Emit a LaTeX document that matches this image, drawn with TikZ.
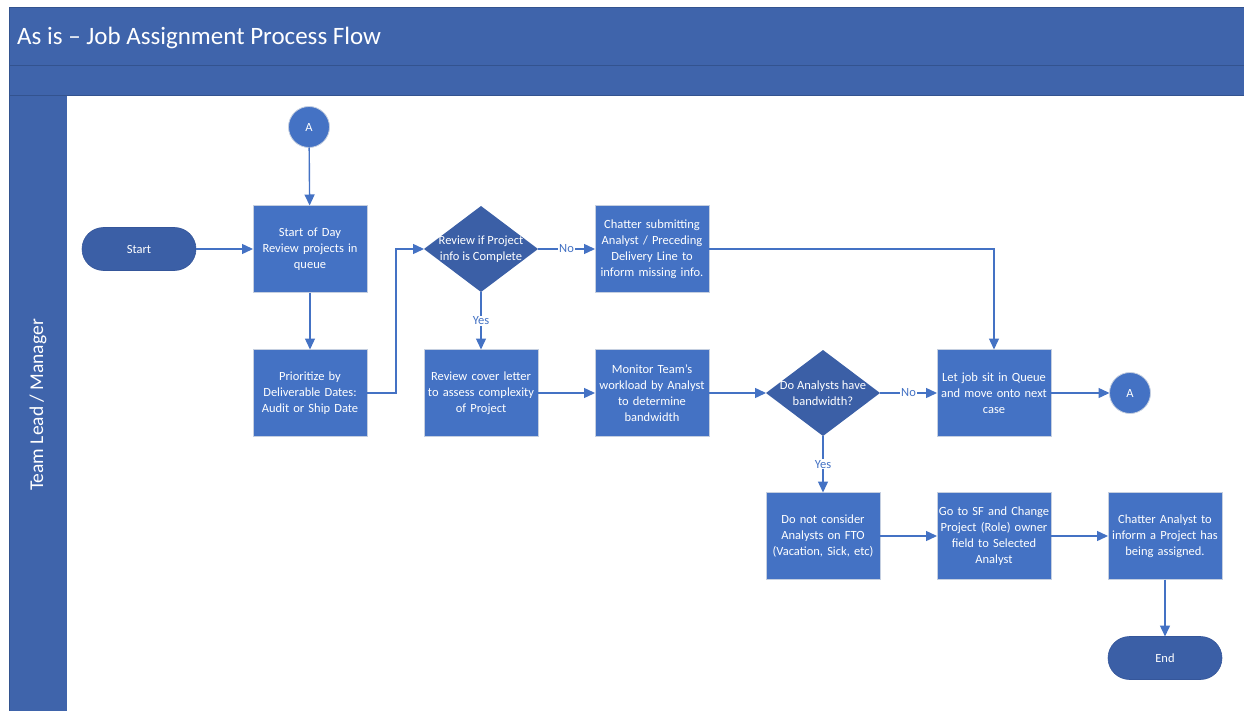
\documentclass[tikz,border=0pt]{standalone}
\usepackage{fontspec}
\setmainfont{Carlito}
\usetikzlibrary{shapes.geometric,arrows.meta}

\definecolor{barblue}{HTML}{3F64AB}
\definecolor{barline}{HTML}{33538F}
\definecolor{procblue}{HTML}{4472C4}
\definecolor{darkblue}{HTML}{3B5FA6}
\definecolor{procedge}{HTML}{C5CFE0}
\definecolor{termedge}{HTML}{35569A}

\tikzset{
  x=1pt, y=-1pt,
  boxtext/.style={text=white, font=\fontsize{12.5}{16}\selectfont, align=center},
  proc/.style={boxtext, rectangle, fill=procblue, draw=procedge, line width=0.8pt,
    minimum width=114pt, minimum height=87pt, text width=112pt, inner sep=0pt, outer sep=0pt},
  term/.style={boxtext, rectangle, rounded corners=21.5pt, fill=darkblue, draw=termedge,
    line width=0.6pt, minimum width=114pt, minimum height=43pt, inner sep=0pt, outer sep=0pt},
  decision/.style={diamond, fill=darkblue, draw=none, minimum width=114pt,
    minimum height=86pt, inner sep=0pt, outer sep=0pt},
  dtext/.style={boxtext, inner sep=0pt},
  offpage/.style={boxtext, circle, fill=procblue, draw=procedge, line width=0.8pt,
    minimum size=41pt, inner sep=0pt, outer sep=0pt},
  conn/.style={draw=procblue, line width=1.4pt,
    -{Triangle[length=11pt,width=10pt]}},
  yn/.style={fill=white, text=procblue, font=\fontsize{12.5}{14}\selectfont, inner sep=1pt},
}

\begin{document}
\begin{tikzpicture}
\useasboundingbox (0,0) rectangle (1244,711);

% swimlane frame: title bar, header strip and lane label column
\fill[barblue] (9,8) rectangle (1244,66);
\fill[barblue] (9,66) rectangle (1244,95);
\fill[barblue] (9,95) rectangle (67,711);
\draw[barline, line width=1pt] (9,8) -- (1244,8);
\draw[barline, line width=1pt] (9,66) -- (1244,66);
\draw[barline, line width=0.8pt] (67,95) -- (1244,95);
\draw[barline, line width=0.8pt] (9,8) -- (9,711);
\draw[barline, line width=0.8pt] (9,95) -- (67,95);

\node[anchor=west, text=white, font=\fontsize{25}{30}\selectfont, inner sep=0pt]
  (title) at (17,38) {As is – Job Assignment Process Flow};
\node[rotate=90, text=white, font=\fontsize{19.5}{23}\selectfont, inner sep=0pt]
  (lane) at (38,405) {Team Lead / Manager};

% flow nodes
\node[offpage] (atop) at (309,127) {A};
\node[term] (start) at (139,249) {Start};
\node[proc] (sod) at (310,249) {Start of Day\\Review projects in\\queue};
\node[proc] (prio) at (310,393) {Prioritize by\\Deliverable Dates:\\Audit or Ship Date};
\node[decision] (chk) at (481,249) {};
\node[dtext] (chkt) at (481,249) {Review if Project\\info is Complete};
\node[proc] (chat) at (652,249) {Chatter submitting\\Analyst / Preceding\\Delivery Line to\\inform missing info.};
\node[proc] (cover) at (481,393) {Review cover letter\\to assess complexity\\of Project};
\node[proc] (mon) at (652,393) {Monitor Team’s\\workload by Analyst\\to determine\\bandwidth};
\node[decision] (bw) at (823,393) {};
\node[dtext] (bwt) at (823,393) {Do Analysts have\\bandwidth?};
\node[proc] (queue) at (994,393) {Let job sit in Queue\\and move onto next\\case};
\node[offpage] (aright) at (1130,393) {A};
\node[proc] (fto) at (823,536) {Do not consider\\Analysts on FTO\\(Vacation, Sick, etc)};
\node[proc] (sf) at (994,536) {Go to SF and Change\\Project (Role) owner\\field to Selected\\Analyst};
\node[proc] (notify) at (1165,536) {Chatter Analyst to\\inform a Project has\\being assigned.};
\node[term] (endn) at (1165,658) {End};

% connectors
\draw[conn] (atop) -- (sod);
\draw[conn] (start) -- (sod);
\draw[conn] (sod) -- (prio);
\draw[conn] (prio.east) -- ++(29,0) |- (chk.west);
\draw[conn] (chk.east) -- node[yn] {No} (chat.west);
\draw[conn] (chk.south) -- node[yn] {Yes} (cover.north);
\draw[conn] (chat.east) -| (queue.north);
\draw[conn] (cover) -- (mon);
\draw[conn] (mon.east) -- (bw.west);
\draw[conn] (bw.east) -- node[yn] {No} (queue.west);
\draw[conn] (queue) -- (aright);
\draw[conn] (bw.south) -- node[yn] {Yes} (fto.north);
\draw[conn] (fto) -- (sf);
\draw[conn] (sf) -- (notify);
\draw[conn] (notify) -- (endn);
\end{tikzpicture}
\end{document}
